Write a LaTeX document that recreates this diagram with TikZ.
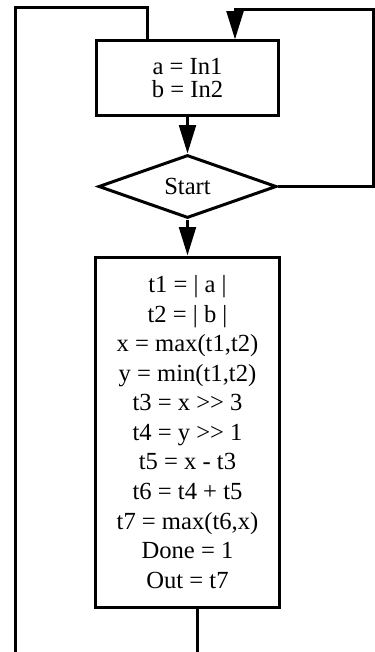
\documentclass[tikz,border=0pt]{standalone}
\usepackage{fontspec}
\setmainfont{Liberation Serif}
\usetikzlibrary{arrows.meta,positioning,shapes.geometric}

\begin{document}
\begin{tikzpicture}[
  x=0.03cm, y=-0.03cm,
  node distance=1.11cm,
  every node/.style={font=\fontsize{21}{25.2}\selectfont},
  procbox/.style={draw, line width=0.09cm, minimum width=5.43cm, align=center},
  decision/.style={draw, diamond, line width=0.09cm, inner sep=0pt, minimum width=5.34cm, minimum height=1.71cm},
  flow/.style={-{Triangle[length=0.85cm, width=0.5cm]}, line width=0.09cm},
  wire/.style={line width=0.09cm}
]
\useasboundingbox (0,0) rectangle (375,652);
\node[procbox, minimum height=2.22cm, font=\fontsize{21}{19.5}\selectfont] (init) at (187.5,78) {a = In1\\b = In2};
\node[decision, below=of init] (start) {Start};
\node[procbox, below=1.08cm of start, minimum width=5.49cm, minimum height=10.5cm] (calc)
  {t1 = | a |\\t2 = | b |\\x = max(t1,t2)\\y = min(t1,t2)\\t3 = x >{}> 3\\t4 = y >{}> 1\\
   t5 = x - t3\\t6 = t4 + t5\\t7 = max(t6,x)\\Done = 1\\Out = t7};
% loop back from the decision
\coordinate (rtop) at (373,10);
\draw[flow] (init) -- (start);
\draw[flow] (start) -- (calc);
\draw[flow] (start.east) -| (rtop) -| ([xshift=1.425cm]init.north);
% lines running off the bottom
\coordinate (ltop) at (15,8);
\coordinate (lbot) at (15,652);
\coordinate (cbot) at (197,652);
\draw[wire] ([xshift=-1.215cm]init.north) |- (ltop) -- (lbot);
\draw[wire] (calc.south -| cbot) -- (cbot);
\end{tikzpicture}
\end{document}
